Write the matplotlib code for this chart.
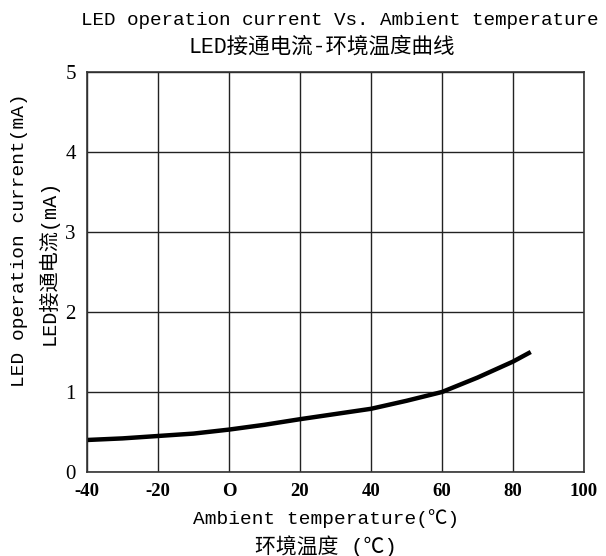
import matplotlib
matplotlib.use("Agg")
import matplotlib.pyplot as plt

# values
temps = [-40, -30, -20, -10, 0, 10, 20, 30, 40, 50, 60, 70, 80, 85]
current = [0.40, 0.42, 0.45, 0.48, 0.53, 0.59, 0.66, 0.725, 0.79, 0.89, 1.0, 1.18, 1.38, 1.50]

x_ticks = [-40, -20, 0, 20, 40, 60, 80, 100]
x_tick_labels = ["-40", "-20", "O", "20", "40", "60", "80", "100"]
y_ticks = [0, 1, 2, 3, 4, 5]

mono_cjk = ["Liberation Mono", "Noto Sans CJK SC"]


def draw():
    fig = plt.figure(figsize=(6.06, 5.56), dpi=100)
    ax = fig.add_axes([0.1436, 0.1511, 0.8201, 0.7194])

    ax.plot(temps, current, color="black", linewidth=3.2, solid_capstyle="butt")

    ax.set_xlim(-40, 100)
    ax.set_ylim(0, 5)
    ax.set_xticks(x_ticks)
    ax.set_xticklabels(x_tick_labels, fontfamily="Liberation Serif",
                       fontweight="bold", fontsize=13.5)
    ax.set_yticks(y_ticks)
    ax.set_yticklabels([str(v) for v in y_ticks], fontfamily="Liberation Serif",
                       fontsize=15)
    ax.tick_params(axis="both", length=0)
    ax.tick_params(axis="x", pad=8)
    ax.tick_params(axis="y", pad=8)
    ax.grid(True, color="#222222", linewidth=1.0)
    for s in ax.spines.values():
        s.set_color("#333333")
        s.set_linewidth(1.2)

    fig.text(0.561, 0.964, "LED operation current Vs. Ambient temperature",
             ha="center", va="center", fontsize=13.9, family=mono_cjk)
    fig.text(0.531, 0.915, "LED接通电流-环境温度曲线",
             ha="center", va="center", fontsize=15.5, family=mono_cjk)
    fig.text(0.033, 0.568, "LED operation current(mA)", rotation=90,
             ha="center", va="center", fontsize=14, family=mono_cjk)
    fig.text(0.079, 0.529, "LED接通电流(mA)", rotation=90,
             ha="center", va="center", fontsize=14.5, family=mono_cjk)
    fig.text(0.538, 0.068, "Ambient temperature(℃)",
             ha="center", va="center", fontsize=14, family=mono_cjk)
    fig.text(0.538, 0.018, "环境温度 (℃)",
             ha="center", va="center", fontsize=15, family=mono_cjk)

    fig.savefig("out.png", dpi=100)


if __name__ == "__main__":
    draw()
